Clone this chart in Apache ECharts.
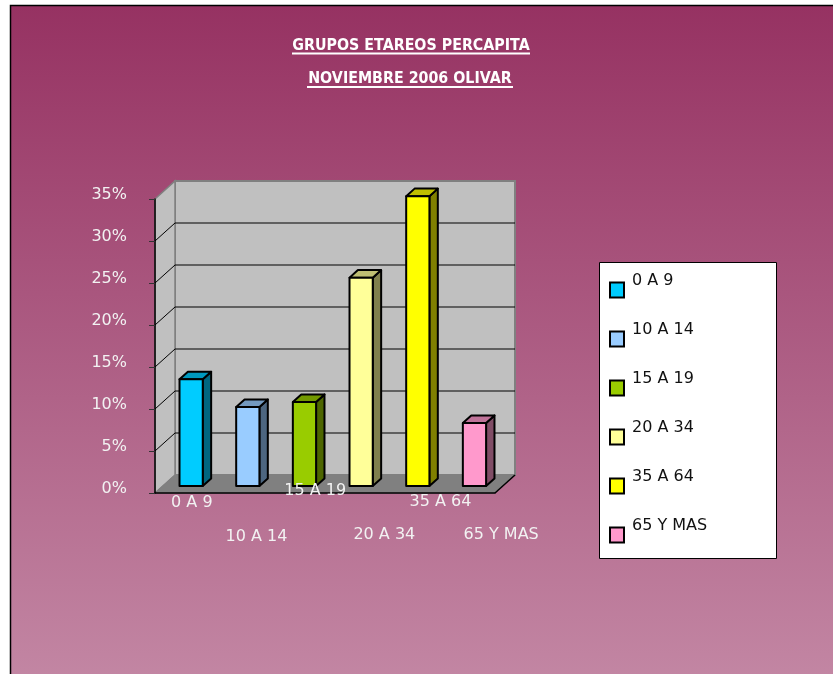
<!DOCTYPE html>
<html>
<head>
<meta charset="UTF-8">
<title>Grupos etareos percapita</title>
<script src="https://cdn.jsdelivr.net/npm/echarts@6/dist/echarts.min.js"></script>
<style>
  html, body { margin: 0; padding: 0; background: #fff; }
  #chart { width: 833px; height: 674px; }
</style>
</head>
<body>
<div id="chart"></div>
<script type="text/javascript">
    // datos
    var categories = ['0 A 9', '10 A 14', '15 A 19', '20 A 34', '35 A 64', '65 Y MAS'];
    var values = [12.7, 9.4, 10.0, 24.8, 34.5, 7.5];
    var yTicks = [0, 5, 10, 15, 20, 25, 30, 35];

    // colores: cara frontal, tapa, costado
    var frontColors = ['#00ccff', '#99ccff', '#99cc00', '#ffff99', '#ffff00', '#ff99cc'];
    var topColors = ['#0099bf', '#7399bf', '#739900', '#bfbf73', '#bfbf00', '#bf7399'];
    var sideColors = ['#006680', '#4d6680', '#4d6600', '#80804d', '#808000', '#804d66'];

    // desplazamiento de profundidad (efecto 3D)
    var DX = 20, DY = -18;
    var D0 = 0.39, D1 = 0.81;
    // posicion de las etiquetas del eje x (estilo escalonado de Excel)
    var labelPad = [[29, 0, 0, 17], [97, 0, 0, 33], [5, 0, 0, 37], [94, 0, 0, 62], [28, 0, 0, 61], [93, 0, 0, 69]];

    var font = 'DejaVu Sans';

    var myChart = echarts.init(document.getElementById('chart'));

    function renderWalls(params, api) {
        var cs = params.coordSys;
        var L = cs.x, R = cs.x + cs.width, T = cs.y, B = cs.y + cs.height;
        var children = [];
        children.push({
            type: 'rect',
            shape: { x: L + DX, y: T + DY, width: cs.width, height: cs.height },
            style: { fill: '#c0c0c0', stroke: '#808080', lineWidth: 2 }
        });
        children.push({
            type: 'polygon',
            shape: { points: [[L, T], [L + DX, T + DY], [L + DX, B + DY], [L, B]] },
            style: { fill: '#c0c0c0', stroke: '#808080', lineWidth: 1.5 }
        });
        yTicks.forEach(function (t) {
            if (t === 0 || t === yTicks[yTicks.length - 1]) return;
            var y = api.coord([0, t])[1];
            children.push({
                type: 'line',
                shape: { x1: L + DX, y1: y + DY, x2: R + DX, y2: y + DY },
                style: { stroke: '#000', lineWidth: 1 }
            });
            children.push({
                type: 'line',
                shape: { x1: L, y1: y, x2: L + DX, y2: y + DY },
                style: { stroke: '#000', lineWidth: 1 }
            });
        });
        children.push({
            type: 'polygon',
            shape: { points: [[L, B], [L + DX, B + DY], [R + DX, B + DY], [R, B]] },
            style: { fill: '#808080', stroke: '#808080', lineWidth: 1 }
        });
        children.push({
            type: 'line',
            shape: { x1: R, y1: B, x2: R + DX, y2: B + DY },
            style: { stroke: '#000', lineWidth: 1.5 }
        });
        return { type: 'group', children: children };
    }

    function makeBarRenderer(idx) {
        return function (params, api) {
            var top = api.coord([api.value(0), api.value(1)]);
            var base = api.coord([api.value(0), 0]);
            var band = api.size([1, 0])[0];
            var w = band * 0.41;
            var x0 = top[0] - w / 2 + D0 * DX;
            var y0 = top[1] + D0 * DY;
            var yb = base[1] + D0 * DY;
            var sx = (D1 - D0) * DX, sy = (D1 - D0) * DY;
            var line = { stroke: '#000', lineWidth: 2, lineJoin: 'round' };
            return {
                type: 'group',
                children: [{
                    type: 'polygon',
                    shape: { points: [[x0 + w, y0], [x0 + w + sx, y0 + sy], [x0 + w + sx, yb + sy], [x0 + w, yb]] },
                    style: echarts.util.extend({ fill: sideColors[idx] }, line)
                }, {
                    type: 'polygon',
                    shape: { points: [[x0, y0], [x0 + w, y0], [x0 + w + sx, y0 + sy], [x0 + sx, y0 + sy]] },
                    style: echarts.util.extend({ fill: topColors[idx] }, line)
                }, {
                    type: 'rect',
                    shape: { x: x0, y: y0, width: w, height: yb - y0 },
                    style: echarts.util.extend({ fill: frontColors[idx] }, line)
                }]
            };
        };
    }

    var series = [{
        name: 'walls',
        type: 'custom',
        silent: true,
        z: 1,
        renderItem: renderWalls,
        encode: { x: 0, y: 1 },
        data: [[0, 0]]
    }];
    categories.forEach(function (c, i) {
        series.push({
            name: c,
            type: 'custom',
            z: 2,
            itemStyle: { color: frontColors[i] },
            renderItem: makeBarRenderer(i),
            encode: { x: 0, y: 1 },
            data: [[i, values[i]]]
        });
    });

    var rich = {};
    labelPad.forEach(function (p, i) {
        rich['l' + i] = { padding: p, lineHeight: 18, fontSize: 16, fontFamily: font, color: '#f2f2f2' };
    });

    option = {
        backgroundColor: '#fff',
        animation: false,
        grid: {
            left: 155,
            top: 199,
            width: 340,
            height: 294,
            outerBoundsMode: 'none'
        },
        legend: {
            data: categories,
            orient: 'vertical',
            left: 609,
            top: 273,
            padding: 0,
            icon: 'rect',
            itemWidth: 14,
            itemHeight: 15,
            itemGap: 15,
            selectedMode: false,
            itemStyle: { borderColor: '#000', borderWidth: 2 },
            formatter: function (name) { return '{t|' + name + '}'; },
            textStyle: {
                color: '#111',
                fontSize: 16,
                fontFamily: font,
                rich: {
                    t: { color: '#111', fontSize: 16, fontFamily: font, lineHeight: 18, padding: [0, 0, 18, 3] }
                }
            }
        },
        xAxis: {
            type: 'category',
            data: categories,
            z: 10,
            axisLine: { lineStyle: { color: '#000', width: 1.5 } },
            axisTick: { length: 7, lineStyle: { color: '#000' } },
            axisLabel: {
                interval: 0,
                margin: -14,
                formatter: function (v, i) { return '{l' + i + '|' + v + '}'; },
                rich: rich
            },
            splitLine: { show: false }
        },
        yAxis: {
            type: 'value',
            min: 0,
            max: 35,
            interval: 5,
            z: 10,
            axisLine: { show: true, lineStyle: { color: '#000', width: 1.5 } },
            axisTick: { show: true, length: 6, lineStyle: { color: '#333' } },
            axisLabel: {
                formatter: '{p|{value}%}',
                margin: 28,
                rich: {
                    p: { fontSize: 16, fontFamily: font, color: '#f2f2f2', lineHeight: 18, padding: [0, 0, 8, 0] }
                }
            },
            splitLine: { show: false }
        },
        graphic: [{
            type: 'rect',
            z: -100,
            shape: { x: 10.5, y: 5.5, width: 840, height: 680 },
            style: {
                fill: new echarts.graphic.LinearGradient(0, 0, 0, 1, [
                    { offset: 0, color: '#963262' },
                    { offset: 1, color: '#c387a4' }
                ]),
                stroke: '#000',
                lineWidth: 1.5
            }
        }, {
            type: 'rect',
            z: 3,
            shape: { x: 599.5, y: 262.5, width: 177, height: 296 },
            style: { fill: '#fff', stroke: '#000', lineWidth: 1 }
        }, {
            type: 'text',
            z: 5,
            x: 411,
            y: 46,
            scaleX: 0.95,
            style: {
                text: 'GRUPOS ETAREOS PERCAPITA',
                font: 'bold 15px "DejaVu Sans"',
                fill: '#fff',
                align: 'center',
                verticalAlign: 'middle'
            }
        }, {
            type: 'rect',
            z: 5,
            shape: { x: 292, y: 52.5, width: 238, height: 2 },
            style: { fill: '#fff' }
        }, {
            type: 'text',
            z: 5,
            x: 410,
            y: 79,
            scaleX: 0.95,
            style: {
                text: 'NOVIEMBRE 2006 OLIVAR',
                font: 'bold 15px "DejaVu Sans"',
                fill: '#fff',
                align: 'center',
                verticalAlign: 'middle'
            }
        }, {
            type: 'rect',
            z: 5,
            shape: { x: 307, y: 86, width: 206, height: 2 },
            style: { fill: '#fff' }
        }],
        series: series
    };
    myChart.setOption(option);
</script>
</body>
</html>
